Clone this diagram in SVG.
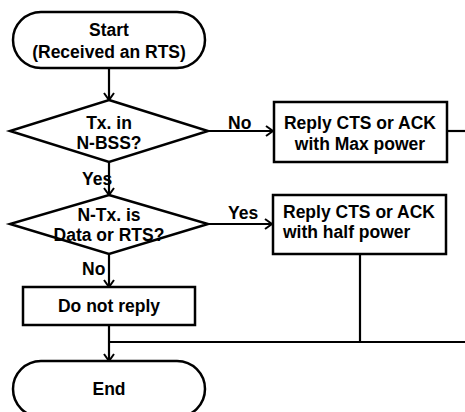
<svg xmlns="http://www.w3.org/2000/svg" width="465" height="412" viewBox="0 0 465 412">
<style>
.s{fill:#fff;stroke:#000;stroke-width:2.5}
.c{fill:none;stroke:#000;stroke-width:2.2}
text{font-family:"Liberation Sans",Arial,sans-serif;font-weight:bold;font-size:17.5px;fill:#000}
.m{text-anchor:middle}
</style>
<defs>
<marker id="a" markerWidth="12" markerHeight="12" refX="10" refY="6" orient="auto" markerUnits="userSpaceOnUse">
<polyline points="3,1 10,6 3,11" fill="none" stroke="#000" stroke-width="2"/>
</marker>
</defs>
<g id="connectors">
<line class="c" x1="109" y1="68" x2="109" y2="100" marker-end="url(#a)"/>
<line class="c" x1="208" y1="131" x2="273" y2="131" marker-end="url(#a)"/>
<line class="c" x1="447" y1="131" x2="465" y2="131"/>
<line class="c" x1="109" y1="162" x2="109" y2="195" marker-end="url(#a)"/>
<line class="c" x1="208" y1="224" x2="272" y2="224" marker-end="url(#a)"/>
<line class="c" x1="109" y1="254" x2="109" y2="287" marker-end="url(#a)"/>
<line class="c" x1="360" y1="254" x2="360" y2="342"/>
<line class="c" x1="109" y1="342" x2="465" y2="342"/>
<line class="c" x1="109" y1="325" x2="109" y2="361" marker-end="url(#a)"/>
<text x="228" y="129">No</text>
<text x="82" y="185">Yes</text>
<text x="228" y="219">Yes</text>
<text x="82" y="275">No</text>
</g>
<g id="start">
<rect class="s" x="13" y="12" width="192" height="56" rx="28"/>
<text class="m" x="109" y="36">Start</text>
<text class="m" x="109" y="58">(Received an RTS)</text>
</g>
<g id="d1">
<polygon class="s" points="109,100 208,131 109,162 10,131"/>
<text class="m" x="109" y="129">Tx. in</text>
<text class="m" x="109" y="149">N-BSS?</text>
</g>
<g id="b1">
<rect class="s" x="274" y="102" width="173" height="60"/>
<text class="m" x="360" y="129">Reply CTS or ACK</text>
<text class="m" x="360" y="150">with Max power</text>
</g>
<g id="d2">
<polygon class="s" points="109,195 208,224 109,254 10,224"/>
<text class="m" x="109" y="221">N-Tx. is</text>
<text class="m" x="109" y="241">Data or RTS?</text>
</g>
<g id="b2">
<rect class="s" x="273" y="195" width="173" height="59"/>
<text x="283" y="218">Reply CTS or ACK</text>
<text x="283" y="238">with half power</text>
</g>
<g id="b3">
<rect class="s" x="23" y="287" width="172" height="38"/>
<text class="m" x="109" y="312">Do not reply</text>
</g>
<g id="end">
<rect class="s" x="13" y="361" width="192" height="56" rx="28"/>
<text class="m" x="109" y="395">End</text>
</g>
</svg>
